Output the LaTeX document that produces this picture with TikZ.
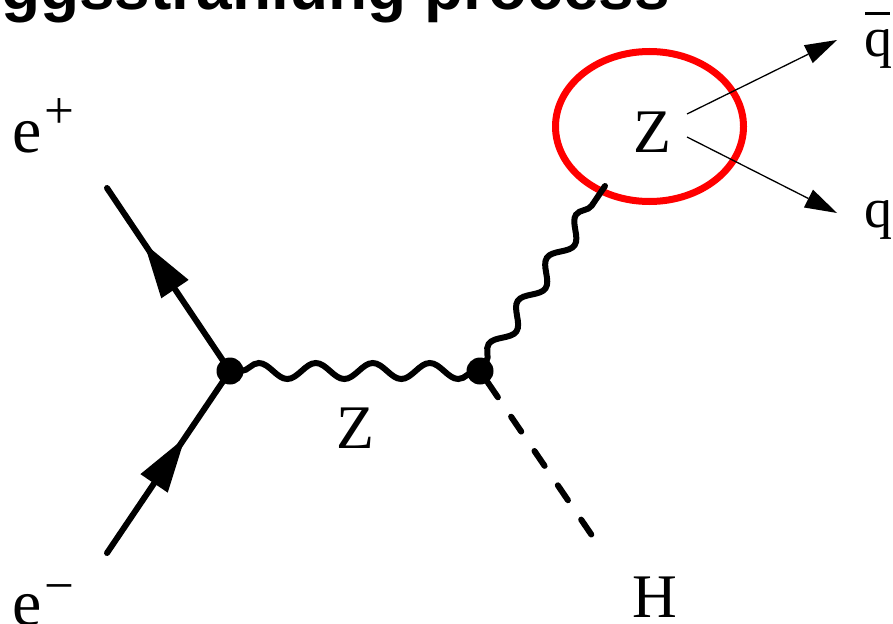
\documentclass[tikz,border=0pt]{standalone}
\usepackage{fontspec}
\setmainfont{Liberation Serif}
\newfontfamily\titlefont{Liberation Sans}
\usetikzlibrary{decorations.pathmorphing,decorations.markings,arrows.meta,shapes.geometric}
\begin{document}
\begin{tikzpicture}[x=1pt,y=-1pt,
  vertex/.style={circle,fill=black,inner sep=0pt,minimum size=27pt},
  fermion/.style={line width=6pt,line cap=round,
    postaction={decorate,decoration={markings,mark=at position #1 with {\arrow{Triangle[length=55pt,width=33pt,line width=0pt]}}}}},
  boson/.style={line width=6pt,line cap=round,decorate,
    decoration={snake,amplitude=8pt,segment length=#1,pre=lineto,pre length=11pt}},
  scalar/.style={line width=6pt,line cap=round,dash pattern=on 18pt off 23.5pt},
  quark/.style={line width=1.3pt,-{Triangle[length=32pt,width=20pt,line width=0pt]}},
  lbl/.style={inner sep=0pt,font=\fontsize{62}{70}\selectfont},
  elbl/.style={inner sep=0pt,anchor=base west,font=\fontsize{66}{72}\selectfont},
  qlbl/.style={inner sep=0pt,anchor=base west,font=\fontsize{56}{60}\selectfont},
  title/.style={inner sep=0pt,anchor=base east,font=\titlefont\bfseries\fontsize{64}{70}\selectfont}
]
\path[use as bounding box,clip] (0,0) rectangle (893,623);

% title (cut at top)
\node[title] (ttl) at (670,10) {ggsstrahlung process};

% vertices and end points
\coordinate (ep) at (107,188);
\coordinate (em) at (107,553);
\coordinate (zt) at (605,186);
\coordinate (hend) at (591.3,534.5);
\coordinate (q1s) at (687,114);
\coordinate (q1e) at (837,40);
\coordinate (q2s) at (687,137);
\coordinate (q2e) at (837,213);

% red highlight
\node[ellipse,draw=red,line width=7pt,minimum width=188pt,minimum height=150pt,inner sep=0pt] (hl) at (649.5,126.5) {};

% lines
\draw[fermion=0.633] (em) -- (230,371) coordinate (A);
\draw[fermion=0.697] (A) -- (ep);
\coordinate (B) at (480,371);
\draw[boson=57pt] (A) -- (B);
\draw[boson=52pt] (B) -- (zt);
\draw[scalar] (hend) -- (B);
\draw[quark] (q1s) -- (q1e);
\draw[quark] (q2s) -- (q2e);

\node[vertex] (va) at (A) {};
\node[vertex] (vb) at (B) {};

% labels
\node[lbl,anchor=base] (zl) at (355,448) {Z};
\node[lbl,anchor=base] (zu) at (652,152) {Z};
\node[lbl,anchor=base] (hl2) at (655,617) {H};
\node[elbl] (lep) at (12,152) {e\kern3pt\raisebox{24pt}{\fontsize{53}{60}\selectfont +}};
\node[elbl] (lem) at (12,625) {e\kern3pt\raisebox{22pt}{\fontsize{53}{60}\selectfont −}};
\node[qlbl] (lqb) at (864,57) {q\kern-27pt\rule[42pt]{25pt}{2.5pt}\kern2pt};
\node[qlbl] (lq) at (864,227) {q};
\end{tikzpicture}
\end{document}
